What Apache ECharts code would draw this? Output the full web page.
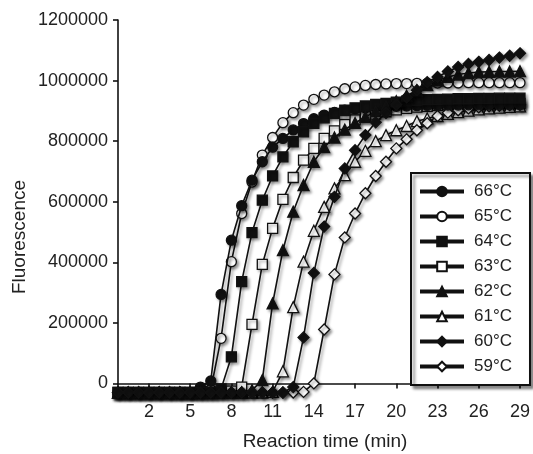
<!DOCTYPE html>
<html>
<head>
<meta charset="utf-8">
<script src="https://cdn.jsdelivr.net/npm/echarts@6/dist/echarts.min.js"></script>
<style>
  html, body { margin: 0; padding: 0; background: #fff; }
  #main { width: 533px; height: 454px; }
</style>
</head>
<body>
<div id="main"></div>
<script>
// reading every 45 s (minutes)
var times = [0, 0.75, 1.5, 2.25, 3, 3.75, 4.5, 5.25, 6, 6.75,
  7.5, 8.25, 9, 9.75, 10.5, 11.25, 12, 12.75, 13.5, 14.25,
  15, 15.75, 16.5, 17.25, 18, 18.75, 19.5, 20.25, 21, 21.75,
  22.5, 23.25, 24, 24.75, 25.5, 26.25, 27, 27.75, 28.5, 29.25];
var xTickLabels = ['2', '5', '8', '11', '14', '17', '20', '23', '26', '29'];
var yTicks = [0, 200000, 400000, 600000, 800000, 1000000, 1200000];

var f66 = [-30000, -30000, -30000, -30000, -30000, -30000, -30000, -30000, -12000, 8000,
  294000, 473000, 587000, 671000, 732000, 780000, 809000, 837000, 858000, 874000,
  886000, 895000, 902000, 907000, 910000, 912000, 914000, 915000, 916000, 917000,
  918000, 918000, 919000, 919000, 920000, 920000, 920000, 920000, 920000, 920000];
var f65 = [-30000, -30000, -30000, -30000, -30000, -30000, -30000, -30000, -30000, -20000,
  149000, 402000, 561000, 665000, 754000, 812000, 861000, 894000, 919000, 938000,
  952000, 963000, 973000, 979000, 984000, 987000, 989000, 990000, 990000, 991000,
  991000, 992000, 992000, 992000, 993000, 993000, 993000, 993000, 993000, 993000];
var f64 = [-30000, -30000, -30000, -30000, -30000, -30000, -30000, -30000, -30000, -30000,
  -18000, 88000, 336000, 498000, 605000, 685000, 748000, 798000, 831000, 859000,
  877000, 892000, 902000, 910000, 916000, 921000, 925000, 929000, 932000, 935000,
  937000, 938000, 939000, 940000, 940000, 941000, 941000, 942000, 942000, 942000];
var f63 = [-30000, -30000, -30000, -30000, -30000, -30000, -30000, -30000, -30000, -30000,
  -30000, -25000, -12000, 195000, 393000, 512000, 608000, 680000, 737000, 776000,
  809000, 834000, 855000, 870000, 881000, 889000, 897000, 903000, 908000, 912000,
  915000, 918000, 920000, 921000, 922000, 923000, 924000, 924000, 925000, 925000];
var f62 = [-30000, -30000, -30000, -30000, -30000, -30000, -30000, -30000, -30000, -30000,
  -30000, -30000, -30000, -22000, 11000, 264000, 440000, 567000, 655000, 732000,
  780000, 812000, 838000, 860000, 880000, 898000, 915000, 932000, 950000, 968000,
  985000, 1000000, 1012000, 1020000, 1025000, 1028000, 1029000, 1030000, 1030000, 1031000];
var f61 = [-30000, -30000, -30000, -30000, -30000, -30000, -30000, -30000, -30000, -30000,
  -30000, -30000, -30000, -30000, -30000, -28000, 40000, 252000, 402000, 504000,
  583000, 644000, 688000, 732000, 768000, 800000, 820000, 836000, 850000, 866000,
  875000, 883000, 890000, 896000, 901000, 905000, 908000, 911000, 913000, 915000];
var f60 = [-30000, -30000, -30000, -30000, -30000, -30000, -30000, -30000, -30000, -30000,
  -30000, -30000, -30000, -30000, -30000, -30000, -30000, -12000, 152000, 365000,
  518000, 616000, 710000, 770000, 820000, 862000, 893000, 920000, 945000, 968000,
  995000, 1012000, 1030000, 1045000, 1055000, 1062000, 1068000, 1076000, 1082000, 1090000];
var f59 = [-30000, -30000, -30000, -30000, -30000, -30000, -30000, -30000, -30000, -30000,
  -30000, -30000, -30000, -30000, -30000, -30000, -30000, -30000, -28000, 0,
  178000, 360000, 482000, 561000, 628000, 685000, 732000, 776000, 806000, 836000,
  859000, 883000, 894000, 902000, 908000, 912000, 915000, 917000, 919000, 920000];

var names = ['66°C', '65°C', '64°C', '63°C', '62°C', '61°C', '60°C', '59°C'];
var seriesData = [f66, f65, f64, f63, f62, f61, f60, f59];
var symbols = ['circle', 'circle', 'rect', 'rect', 'triangle', 'triangle', 'diamond', 'diamond'];
var filled = [true, false, true, false, true, false, true, false];
var sizes = [10, 10, 10, 10, 11, 11, 11, 11];

var FONT = '"Liberation Sans", Arial, sans-serif';
var shadow = {shadowColor: 'rgba(0,0,0,0.4)', shadowBlur: 3, shadowOffsetX: 2, shadowOffsetY: 2};

function tickShown(i) {
  return i % 4 === 3;
}

var series = names.map(function (n, k) {
  return {
    name: n,
    type: 'line',
    data: seriesData[k],
    symbol: symbols[k],
    symbolSize: sizes[k],
    showAllSymbol: true,
    clip: false,
    z: filled[k] ? 3 : 2,
    lineStyle: Object.assign({color: '#111', width: 1.6}, shadow),
    itemStyle: Object.assign({
      color: filled[k] ? '#111' : '#fff',
      borderColor: '#111',
      borderWidth: 1.3
    }, shadow),
    emphasis: {disabled: true}
  };
});

var myChart = echarts.init(document.getElementById('main'));
myChart.setOption({
  animation: false,
  backgroundColor: '#fff',
  grid: {left: 118, right: 8, top: 20, bottom: 63},
  legend: {
    data: names,
    orient: 'vertical',
    left: 411,
    top: 173,
    itemWidth: 44,
    itemHeight: 12,
    itemGap: 8,
    padding: [10, 18, 10, 7],
    backgroundColor: '#fff',
    borderColor: '#111',
    borderWidth: 2,
    shadowColor: 'rgba(0,0,0,0.45)',
    shadowBlur: 3,
    shadowOffsetX: 3,
    shadowOffsetY: 3,
    lineStyle: {width: 4},
    textStyle: {fontFamily: FONT, fontSize: 17, color: '#222', padding: [0, 0, 0, 5]}
  },
  xAxis: {
    type: 'category',
    boundaryGap: false,
    data: times,
    axisLine: {lineStyle: {color: '#111', width: 1.6}},
    axisTick: {interval: function (i) { return tickShown(i); }, length: 5, lineStyle: {color: '#111', width: 1.6}},
    axisLabel: {
      interval: function (i) { return tickShown(i); },
      formatter: function (v, i) { return xTickLabels[(i - 3) / 4]; },
      fontFamily: FONT, fontSize: 18, color: '#222', margin: 12
    },
    splitLine: {show: false}
  },
  yAxis: {
    type: 'value',
    min: -25000,
    max: 1200000,
    axisLine: {show: true, lineStyle: {color: '#111', width: 1.6}},
    axisTick: {show: true, customValues: yTicks, length: 5, lineStyle: {color: '#111', width: 1.6}},
    axisLabel: {
      customValues: yTicks,
      formatter: function (v) { return String(v); },
      fontFamily: FONT, fontSize: 18, color: '#222', margin: 10
    },
    splitLine: {show: false}
  },
  graphic: [
    {type: 'text', x: 20, y: 237, rotation: Math.PI / 2,
      style: {text: 'Fluorescence', font: '19px ' + FONT, fill: '#222', align: 'center', verticalAlign: 'middle'}},
    {type: 'text', x: 325, y: 442,
      style: {text: 'Reaction time (min)', font: '19px ' + FONT, fill: '#222', align: 'center', verticalAlign: 'middle'}}
  ],
  series: series
});
</script>
</body>
</html>
